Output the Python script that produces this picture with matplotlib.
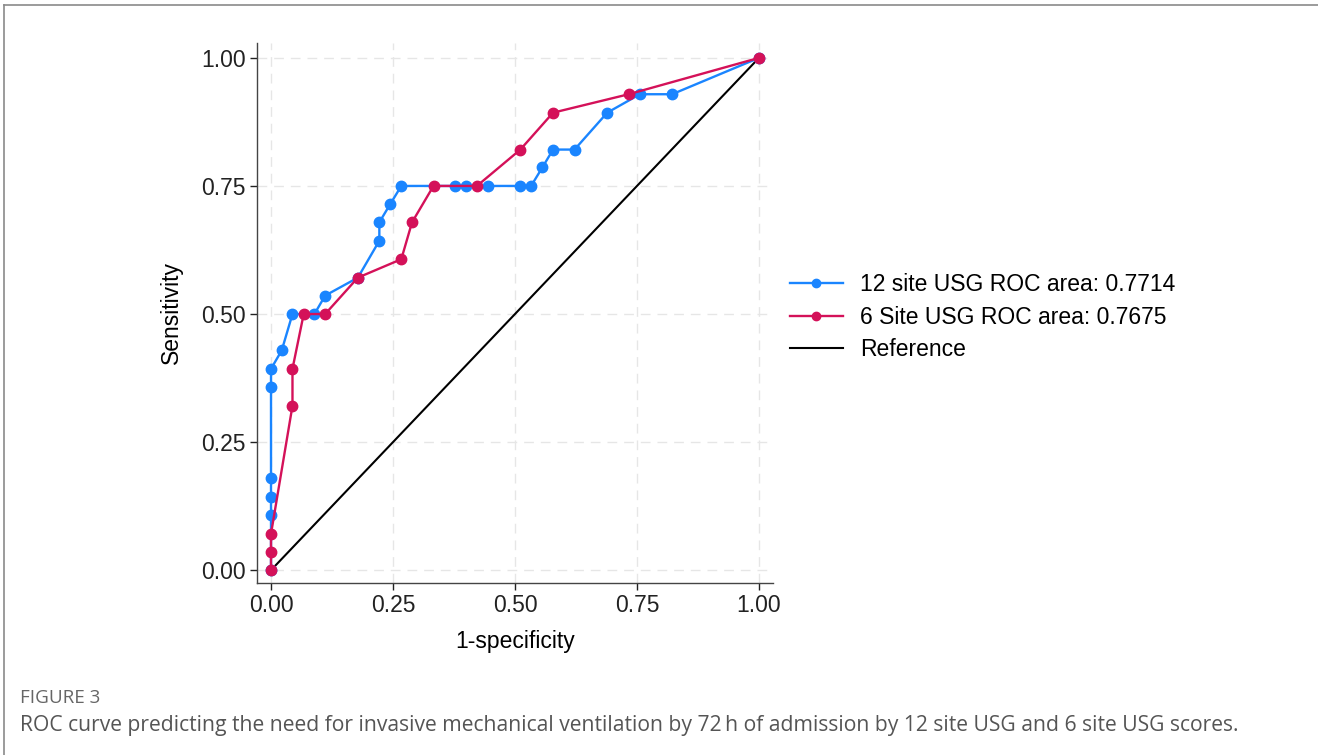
import matplotlib
matplotlib.use("Agg")
import matplotlib.pyplot as plt
from matplotlib.lines import Line2D

# ---------------------------------------------------------------------------
# Data
# ---------------------------------------------------------------------------
usg12_fpr = [0.0, 0.0, 0.0, 0.0, 0.0, 0.0, 0.022, 0.044, 0.089, 0.111, 0.178,
             0.222, 0.222, 0.244, 0.267, 0.378, 0.400, 0.444, 0.511, 0.533,
             0.556, 0.578, 0.622, 0.689, 0.756, 0.822, 1.0]
usg12_tpr = [0.0, 0.107, 0.143, 0.179, 0.357, 0.393, 0.429, 0.500, 0.500, 0.536,
             0.571, 0.643, 0.679, 0.714, 0.750, 0.750, 0.750, 0.750, 0.750,
             0.750, 0.786, 0.821, 0.821, 0.893, 0.929, 0.929, 1.0]

usg6_fpr = [0.0, 0.0, 0.0, 0.044, 0.044, 0.067, 0.111, 0.178, 0.267, 0.289,
            0.333, 0.422, 0.511, 0.578, 0.733, 1.0]
usg6_tpr = [0.0, 0.036, 0.071, 0.321, 0.393, 0.500, 0.500, 0.571, 0.607, 0.679,
            0.750, 0.750, 0.821, 0.893, 0.929, 1.0]

ref_x = [0.0, 1.0]
ref_y = [0.0, 1.0]

labels = ["12 site USG ROC area: 0.7714",
          "6 Site USG ROC area: 0.7675",
          "Reference"]
ticks = [0.0, 0.25, 0.5, 0.75, 1.0]
tick_labels = ["0.00", "0.25", "0.50", "0.75", "1.00"]

BLUE = "#1a85ff"
RED = "#d41159"

# ---------------------------------------------------------------------------
# Figure
# ---------------------------------------------------------------------------
plt.rcParams["font.family"] = ["Liberation Sans", "DejaVu Sans"]

W, H = 1318, 755
fig = plt.figure(figsize=(W / 100, H / 100), dpi=100)
fig.patch.set_facecolor("white")

ax = fig.add_axes([257 / W, 1 - 583 / H, 516 / W, 540 / H])

ax.plot(usg12_fpr, usg12_tpr, color=BLUE, lw=1.7, marker="o", ms=7.5,
        label=labels[0], zorder=3)
ax.plot(usg6_fpr, usg6_tpr, color=RED, lw=1.7, marker="o", ms=7.5,
        label=labels[1], zorder=4)
ax.plot(ref_x, ref_y, color="black", lw=1.5, label=labels[2], zorder=2)

ax.set_xlim(-0.0287, 1.0287)
ax.set_ylim(-0.025, 1.029)
ax.set_xticks(ticks)
ax.set_xticklabels(tick_labels)
ax.set_yticks(ticks)
ax.set_yticklabels(tick_labels)
ax.tick_params(labelsize=16.5, length=5, width=1, colors="#222222", pad=3)

ax.grid(True, color="#e6e6e6", lw=1, ls=(0, (7, 5)))
ax.set_axisbelow(True)
for side in ["top", "right"]:
    ax.spines[side].set_visible(False)
for side in ["left", "bottom"]:
    ax.spines[side].set_color("#444444")
    ax.spines[side].set_linewidth(1.0)

ax.set_xlabel("1-specificity", fontsize=16.5, labelpad=9)
ax.set_ylabel("Sensitivity", fontsize=16.5, labelpad=13)

fig.legend(loc="upper left", bbox_to_anchor=(790 / W, 1 - 273 / H),
           frameon=False, fontsize=16.5, handlelength=2.3, handletextpad=0.75,
           labelspacing=0.42, borderpad=0, borderaxespad=0, numpoints=1,
           markerscale=0.8)

# page frame lines (top and left)
fig.add_artist(Line2D([4 / W, 1], [1 - 5 / H, 1 - 5 / H], color="#8a8a8a",
                      lw=1.2, transform=fig.transFigure))
fig.add_artist(Line2D([4 / W, 4 / W], [0, 1 - 5 / H], color="#8a8a8a",
                      lw=1.2, transform=fig.transFigure))

# caption
fig.text(20 / W, 1 - 698 / H, "FIGURE 3", fontsize=13.6, color="#666666",
         family=["Open Sans", "DejaVu Sans"], va="center", ha="left")
fig.text(20 / W, 1 - 725 / H,
         "ROC curve predicting the need for invasive mechanical ventilation by "
         "72\u2009h of admission by 12 site USG and 6 site USG scores.",
         fontsize=15.2, color="#555555", family=["Open Sans", "DejaVu Sans"],
         va="center", ha="left")

fig.savefig("out.png", dpi=100)
